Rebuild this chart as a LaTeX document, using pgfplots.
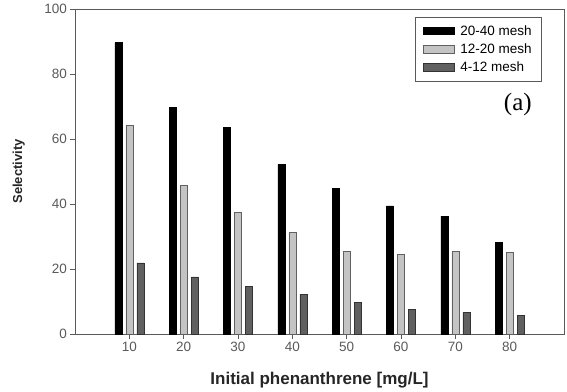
\documentclass[border=0pt]{standalone}
\usepackage{pgfplots}
\pgfplotsset{compat=1.18}
\usepackage{fontspec}
\setmainfont{Liberation Sans}
\newfontfamily\serifa{Liberation Serif}
\definecolor{axgray}{HTML}{5A5A5A}
\definecolor{lgray}{HTML}{C4C4C4}
\definecolor{dgray}{HTML}{606060}
\begin{document}
\begin{tikzpicture}[x=1pt,y=1pt]
\useasboundingbox (0,0) rectangle (567,391);
\begin{axis}[
  at={(75pt,57pt)}, anchor=south west,
  scale only axis, width=489pt, height=325pt,
  xmin=0, xmax=90, ymin=0, ymax=100,
  ybar=4pt, bar width=7pt,
  xtick={10,20,...,80}, ytick={0,20,...,100},
  tick align=outside, tickwidth=4.5pt,
  axis line style={axgray, line width=0.8pt},
  every tick/.style={axgray, line width=0.8pt},
  xtick pos=bottom, ytick pos=left,
  tick label style={font=\fontsize{13.5}{15}\selectfont, text=axgray},
  /pgf/number format/assume math mode=true,
  xlabel={\bfseries Initial phenanthrene [mg/L]},
  ylabel={\bfseries Selectivity},
  xlabel style={font=\fontsize{17}{19}\selectfont, text=black!85, at={(0.5,0)}, anchor=base, yshift=-50pt},
  ylabel style={font=\fontsize{13}{15}\selectfont, text=black!85, at={(axis description cs:-0.115,0.5)}, anchor=center},
  legend style={at={(1,1)}, xshift=-22pt, yshift=-8pt, anchor=north east,
    draw=axgray, line width=0.6pt, font=\fontsize{13.5}{15}\selectfont,
    inner xsep=8pt, inner ysep=6pt, row sep=3pt},
  legend cell align=left,
  legend image code/.code={\draw[#1, line width=0.6pt] (0pt,-3.8pt) rectangle (31pt,3.8pt); \path[draw=none,fill=none] (0pt,0pt) rectangle (35pt,0.1pt);},
]
\addplot[fill=black, draw=black, line width=0.6pt] coordinates {
(10,89.6) (20,69.6) (30,63.5) (40,52.2) (50,44.8) (60,39.4) (70,36.3) (80,28.2)};
\addplot[fill=lgray, draw=dgray, line width=0.6pt] coordinates {
(10,64.2) (20,45.8) (30,37.5) (40,31.2) (50,25.3) (60,24.5) (70,25.3) (80,25.2)};
\addplot[fill=dgray, draw=black!80, line width=0.6pt] coordinates {
(10,21.9) (20,17.6) (30,14.7) (40,12.2) (50,9.8) (60,7.6) (70,6.6) (80,5.7)};
\legend{20-40 mesh,12-20 mesh,4-12 mesh}
\node[font=\serifa\fontsize{25}{27}\selectfont] at (axis cs:81.5,70.5) {(a)};
\end{axis}
\end{tikzpicture}
\end{document}
